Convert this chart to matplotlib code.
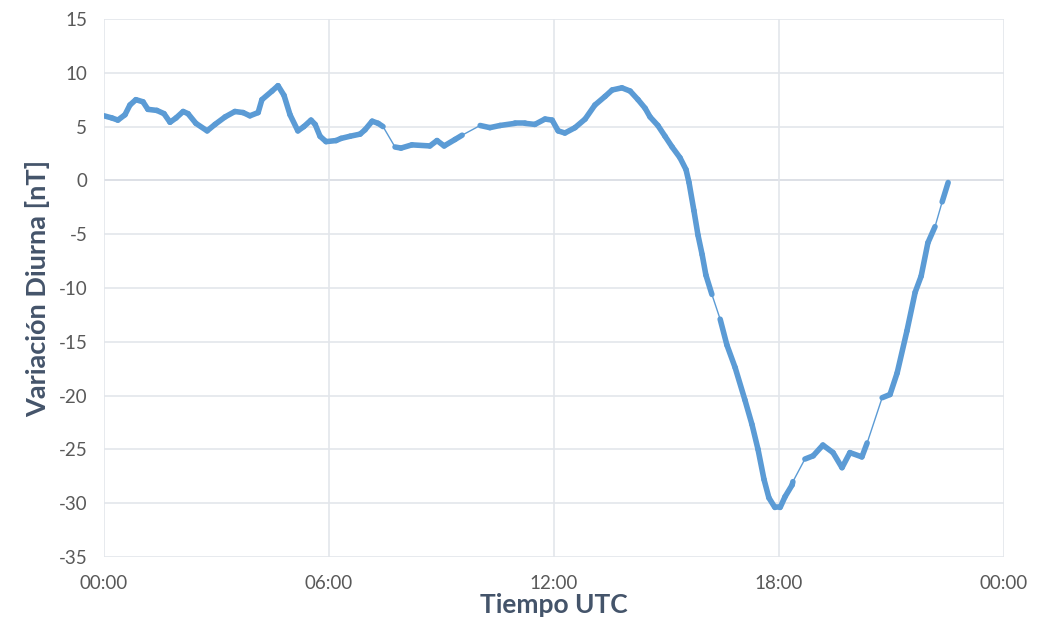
import numpy as np
import matplotlib.pyplot as plt
from matplotlib.collections import LineCollection

# hours since 00:00 UTC and diurnal variation in nT
hours = [0.0, 0.21, 0.37, 0.56, 0.69, 0.85, 1.04, 1.17, 1.41, 1.6, 1.76, 1.92,
         2.11, 2.24, 2.45, 2.75, 2.96, 3.23, 3.49, 3.71, 3.89, 4.11, 4.21,
         4.48, 4.64, 4.8, 4.96, 5.17, 5.33, 5.52, 5.63, 5.76, 5.92, 6.19,
         6.32, 6.56, 6.83, 6.96, 7.15, 7.31, 7.44, 7.76, 7.92, 8.21, 8.69,
         8.88, 9.07, 9.36, 9.55, 10.03, 10.29, 10.56, 10.96, 11.23, 11.49,
         11.76, 11.95, 12.11, 12.29, 12.56, 12.83, 13.09, 13.36, 13.55, 13.81,
         14.03, 14.24, 14.43, 14.56, 14.77, 14.96, 15.15, 15.36, 15.52, 15.6,
         15.73, 15.84, 15.95, 16.05, 16.21, 16.43, 16.61, 16.83, 17.09, 17.28,
         17.44, 17.6, 17.73, 17.89, 18.03, 18.16, 18.35, 18.37, 18.69, 18.91,
         19.17, 19.44, 19.68, 19.89, 20.21, 20.35, 20.75, 20.96, 21.15, 21.41,
         21.63, 21.79, 21.97, 22.16, 22.35, 22.51]
values = [6.0, 5.8, 5.6, 6.1, 7.0, 7.5, 7.3, 6.6, 6.5, 6.2, 5.4, 5.8,
          6.4, 6.2, 5.3, 4.6, 5.2, 5.9, 6.4, 6.3, 6.0, 6.3, 7.5,
          8.3, 8.8, 7.9, 6.1, 4.6, 5.0, 5.6, 5.2, 4.1, 3.6, 3.7,
          3.9, 4.1, 4.3, 4.7, 5.5, 5.3, 5.0, 3.1, 3.0, 3.3, 3.2,
          3.7, 3.2, 3.8, 4.2, 5.1, 4.9, 5.1, 5.3, 5.3, 5.2,
          5.7, 5.6, 4.6, 4.4, 4.9, 5.7, 7.0, 7.8, 8.4, 8.6,
          8.3, 7.5, 6.7, 5.9, 5.1, 4.1, 3.1, 2.1, 1.0, -0.2,
          -2.8, -5.1, -6.9, -8.8, -10.6, -12.9, -15.3, -17.4, -20.4, -22.7,
          -25.0, -27.8, -29.5, -30.4, -30.4, -29.4, -28.3, -28.0, -25.9, -25.6,
          -24.6, -25.3, -26.7, -25.3, -25.7, -24.4, -20.2, -19.9, -17.9, -14.0,
          -10.4, -8.9, -5.8, -4.3, -2.0, -0.2]
# intervals where the record has no samples (drawn as a thin joining line)
gaps = [(7.44, 7.76), (9.55, 10.03), (16.21, 16.43), (18.37, 18.69), (20.35, 20.75), (22.16, 22.35)]

x_ticks = [0, 6, 12, 18, 24]
x_labels = ['00:00', '06:00', '12:00', '18:00', '00:00']
y_ticks = list(range(-35, 20, 5))

blue = '#5B9BD5'
text_col = '#595959'
label_col = '#44546A'

plt.rcParams['font.family'] = ['Lato', 'DejaVu Sans']
plt.rcParams['axes.unicode_minus'] = False

fig = plt.figure(figsize=(10.37, 6.32), dpi=100)
ax = fig.add_axes([0.1003, 0.1187, 0.8679, 0.8513])

x = np.array(hours)
y = np.array(values)
pts = np.column_stack([x, y])
segs = np.stack([pts[:-1], pts[1:]], axis=1)
widths = []
for a, b in zip(x[:-1], x[1:]):
    thin = any(abs(a - g0) < 1e-6 and abs(b - g1) < 1e-6 for g0, g1 in gaps)
    widths.append(1.0 if thin else 4.0)
lc = LineCollection(segs, linewidths=widths, colors=blue, capstyle='round',
                    joinstyle='round', zorder=3)
ax.add_collection(lc)

ax.set_xlim(0, 24)
ax.set_ylim(-35, 15)
ax.set_xticks(x_ticks)
ax.set_xticklabels(x_labels)
ax.set_yticks(y_ticks)

ax.grid(True, color='#E3E6EB', linewidth=1.2, zorder=0)
ax.axhline(0, color='#BCC3CE', linewidth=1.3, zorder=1)
for s in ax.spines.values():
    s.set_visible(False)
ax.tick_params(length=0, labelsize=13.5, colors=text_col)
ax.tick_params(axis='x', pad=13)
ax.tick_params(axis='y', pad=12)

ax.set_xlabel('Tiempo UTC', fontsize=19, fontweight='bold', color=label_col, labelpad=1)
ax.set_ylabel('Variación Diurna [nT]', fontsize=19.5, fontweight='bold', color=label_col, labelpad=6)

plt.savefig('out.png')
